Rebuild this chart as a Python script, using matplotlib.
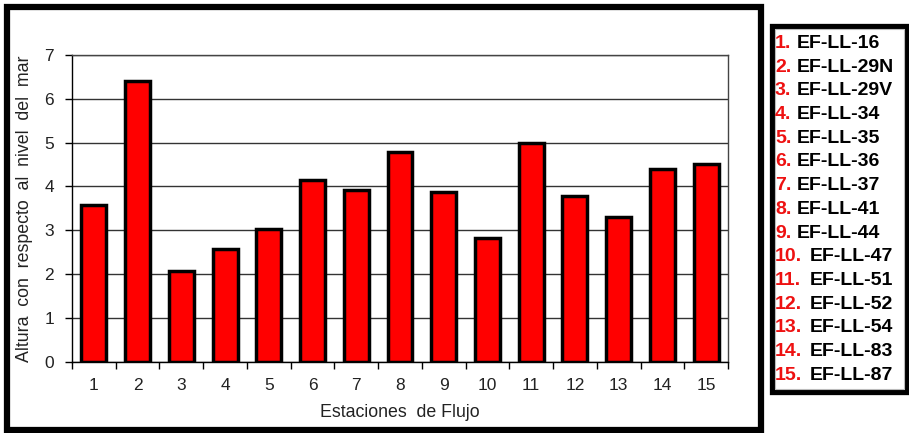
import matplotlib
matplotlib.use("Agg")
from matplotlib import pyplot as plt
from matplotlib.patches import Rectangle
import numpy as np

plt.rcParams['font.family'] = ['Liberation Sans', 'DejaVu Sans']

estaciones = list(range(1, 16))
alturas = [3.57, 6.40, 2.07, 2.58, 3.03, 4.14, 3.92, 4.79, 3.86, 2.81, 5.00, 3.79, 3.29, 4.40, 4.51]
nombres = ["EF-LL-16", "EF-LL-29N", "EF-LL-29V", "EF-LL-34", "EF-LL-35", "EF-LL-36", "EF-LL-37",
           "EF-LL-41", "EF-LL-44", "EF-LL-47", "EF-LL-51", "EF-LL-52", "EF-LL-54", "EF-LL-83", "EF-LL-87"]

W, H = 909, 433
fig = plt.figure(figsize=(W / 100, H / 100), dpi=100)
ax = fig.add_axes([72 / W, 1 - 361.5 / H, (728 - 72) / W, (361.5 - 55) / H])

x = np.arange(len(estaciones))
ax.bar(x, alturas, width=0.57, color="#ff0000", edgecolor="black", linewidth=2.5, zorder=3)

ax.set_xlim(-0.5, len(estaciones) - 0.5)
ax.set_ylim(0, 7)
ax.set_yticks(range(0, 8))
ax.set_xticks(x)
ax.set_xticklabels([str(e) for e in estaciones])
ax.set_xticks(np.arange(-0.5, len(estaciones)), minor=True)
ax.tick_params(axis="x", which="major", length=0, pad=12, labelsize=12.5, labelcolor="#222222")
ax.tick_params(axis="x", which="minor", length=5, width=1, direction="out", color="black")
ax.tick_params(axis="y", length=5, width=1, direction="out", pad=8, labelsize=12.5, labelcolor="#222222")
ax.yaxis.grid(True, color="#333333", linewidth=1, zorder=0)
ax.set_axisbelow(True)

for s in ["top", "right"]:
    ax.spines[s].set_color("#444444")
    ax.spines[s].set_linewidth(1)
for s in ["left", "bottom"]:
    ax.spines[s].set_color("black")
    ax.spines[s].set_linewidth(1)

ax.set_xlabel("Estaciones  de Flujo", fontsize=12.8, color="#222222", labelpad=8)
ax.set_ylabel("Altura  con  respecto  al  nivel  del  mar", fontsize=12.8, color="#222222", labelpad=8)

# outer frame of the chart
fig.patches.append(Rectangle((6.5 / W, 1 - 430 / H), (761 - 6.5) / W, (430 - 7) / H,
                             transform=fig.transFigure, fill=False, edgecolor="black", linewidth=4.5))

# station legend box
fig.patches.append(Rectangle((771.5 / W, 1 - 392 / H), (906.5 - 771.5) / W, (392 - 25.5) / H,
                             transform=fig.transFigure, fill=False, edgecolor="black", linewidth=3.8))
fig.patches.append(Rectangle((774.5 / W, 1 - 389 / H), (903.5 - 774.5) / W, (389 - 28.5) / H,
                             transform=fig.transFigure, fill=False, edgecolor="#bbbbbb", linewidth=0.8))

for i, (e, n) in enumerate(zip(estaciones, nombres)):
    yy = 1 - (43.5 + i * 23.7) / H
    fig.text(775 / W, yy, f"{e}.", color="#ee1111", fontsize=14, fontweight="bold", va="center", ha="left")
    xn = 797 if e < 10 else 810
    fig.text(xn / W, yy, n, color="black", fontsize=14, fontweight="bold", va="center", ha="left")

fig.savefig("out.png", dpi=100)
